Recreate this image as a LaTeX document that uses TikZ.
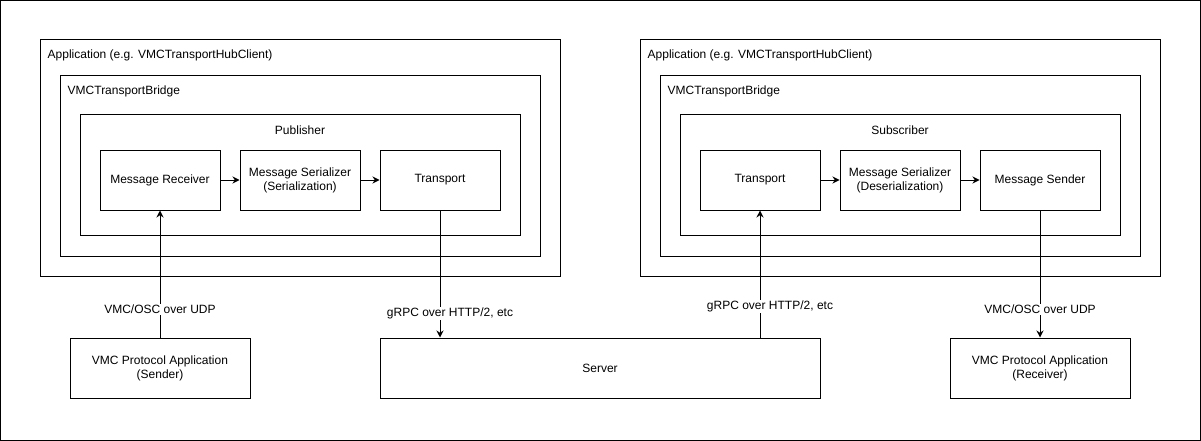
\documentclass[tikz,border=0pt]{standalone}
\usepackage{fontspec}
\setmainfont{Liberation Sans}
\usetikzlibrary{arrows.meta}
\begin{document}
\begin{tikzpicture}[x=1pt,y=-1pt,
  box/.style={draw, line width=1pt, inner sep=0pt, font=\fontsize{12}{14}\selectfont, align=center, minimum width=120pt, minimum height=60pt},
  frame/.style={draw, line width=1pt, inner sep=0pt},
  lbl/.style={inner sep=1pt, font=\fontsize{12}{14}\selectfont, align=center},
  elbl/.style={lbl, fill=white},
  arr/.style={line width=1pt, -{Stealth[length=7pt,width=7pt]}}
]
\useasboundingbox (0,0) rectangle (1201,441);
\draw[line width=1pt] (0.5,0.5) rectangle (1200.5,440.5);

% left side
\node[frame, minimum width=520pt, minimum height=236pt] (app1) at (300,158) {};
\node[lbl, anchor=west] (app1l) at ([shift={(7pt,-15.5pt)}]app1.north west) {Application (e.g. VMCTransportHubClient)};
\node[frame, minimum width=480pt, minimum height=180pt] (br1) at (300,166) {};
\node[lbl, anchor=west] (br1l) at ([shift={(7pt,-15.5pt)}]br1.north west) {VMCTransportBridge};
\node[frame, minimum width=440pt, minimum height=120pt] (pub) at (300,175) {};
\node[lbl] (publ) at ([shift={(0pt,-15.5pt)}]pub.north) {Publisher};
\node[box] (mr) at (160,180) {Message Receiver};
\node[box] (ms1) at (300,180) {Message Serializer\\(Serialization)};
\node[box] (tr1) at (440,180) {Transport};

% right side
\node[frame, minimum width=520pt, minimum height=236pt] (app2) at (900,158) {};
\node[lbl, anchor=west] (app2l) at ([shift={(7pt,-15.5pt)}]app2.north west) {Application (e.g. VMCTransportHubClient)};
\node[frame, minimum width=480pt, minimum height=180pt] (br2) at (900,166) {};
\node[lbl, anchor=west] (br2l) at ([shift={(7pt,-15.5pt)}]br2.north west) {VMCTransportBridge};
\node[frame, minimum width=440pt, minimum height=120pt] (sub) at (900,175) {};
\node[lbl] (subl) at ([shift={(0pt,-15.5pt)}]sub.north) {Subscriber};
\node[box] (tr2) at (760,180) {Transport};
\node[box] (ms2) at (900,180) {Message Serializer\\(Deserialization)};
\node[box] (snd) at (1040,180) {Message Sender};

% bottom
\node[box, minimum width=180pt] (sapp) at (160,368) {VMC Protocol Application\\(Sender)};
\node[box, minimum width=440pt] (srv) at (600,368) {Server};
\node[box, minimum width=180pt] (rapp) at (1040,368) {VMC Protocol Application\\(Receiver)};

% connectors
\draw[arr] (mr) -- (ms1);
\draw[arr] (ms1) -- (tr1);
\draw[arr] (tr2) -- (ms2);
\draw[arr] (ms2) -- (snd);

\draw[arr] (sapp.north) -- node[elbl, pos=0.219] {VMC/OSC over UDP} (mr.south);
\draw[arr] (tr1.south) -- node[elbl, pos=0.8125, xshift=10pt] {gRPC over HTTP/2, etc} (tr1.south |- srv.north);
\draw[arr] (tr2.south |- srv.north) -- node[elbl, pos=0.242, xshift=10pt] {gRPC over HTTP/2, etc} (tr2.south);
\draw[arr] (snd.south) -- node[elbl, pos=0.78] {VMC/OSC over UDP} (rapp.north);
\end{tikzpicture}
\end{document}
